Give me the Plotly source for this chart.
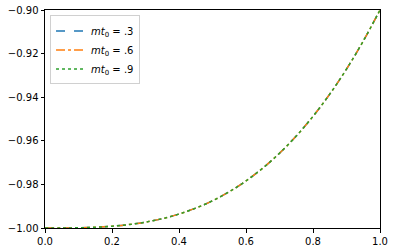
import plotly.graph_objects as go

x_vals = [0.0, 0.05, 0.1, 0.15, 0.2, 0.25, 0.3, 0.35, 0.4, 0.45, 0.5,
          0.55, 0.6, 0.65, 0.7, 0.75, 0.8, 0.85, 0.9, 0.95, 1.0]
y_mt03 = [-1.0, -0.99999, -0.9999, -0.99966, -0.9992, -0.99844, -0.9973, -0.99571,
          -0.9936, -0.99089, -0.9875, -0.98336, -0.9784, -0.97254, -0.9657,
          -0.95781, -0.9488, -0.93859, -0.9271, -0.91426, -0.9]
y_mt06 = list(y_mt03)
y_mt09 = list(y_mt03)
labels = [".3", ".6", ".9"]

colors = ["#1f77b4", "#ff7f0e", "#2ca02c"]
dashes = ["dash", "dashdot", "dot"]

fig = go.Figure()
for ys, lab, c, d in zip([y_mt03, y_mt06, y_mt09], labels, colors, dashes):
    fig.add_trace(go.Scatter(
        x=x_vals, y=ys, mode="lines", line=dict(color=c, dash=d, width=1.5, shape="spline"),
        name="<i>mt</i><sub>0</sub> = " + lab))

axis_common = dict(showgrid=False, zeroline=False, showline=True, linecolor="black",
                   linewidth=1, mirror=True, ticks="outside", ticklen=3.5, tickcolor="black",
                   tickfont=dict(size=10, color="black"), automargin=False)
fig.update_layout(
    width=394, height=252,
    margin=dict(l=45, r=14, t=10, b=24),
    plot_bgcolor="white", paper_bgcolor="white",
    font=dict(family="DejaVu Sans", size=10, color="black"),
    xaxis=dict(range=[0, 1], dtick=0.2, tickformat=".1f", **axis_common),
    yaxis=dict(range=[-1.0, -0.9], dtick=0.02, tickformat=".2f", **axis_common),
    legend=dict(x=0.015, y=0.975, xanchor="left", yanchor="top",
                bordercolor="#d0d0d0", borderwidth=1, bgcolor="rgba(255,255,255,0.8)",
                font=dict(size=10)),
    showlegend=True,
)
fig.write_html("out.html", config={"displayModeBar": False},
               post_script="document.body.style.margin='0';")
